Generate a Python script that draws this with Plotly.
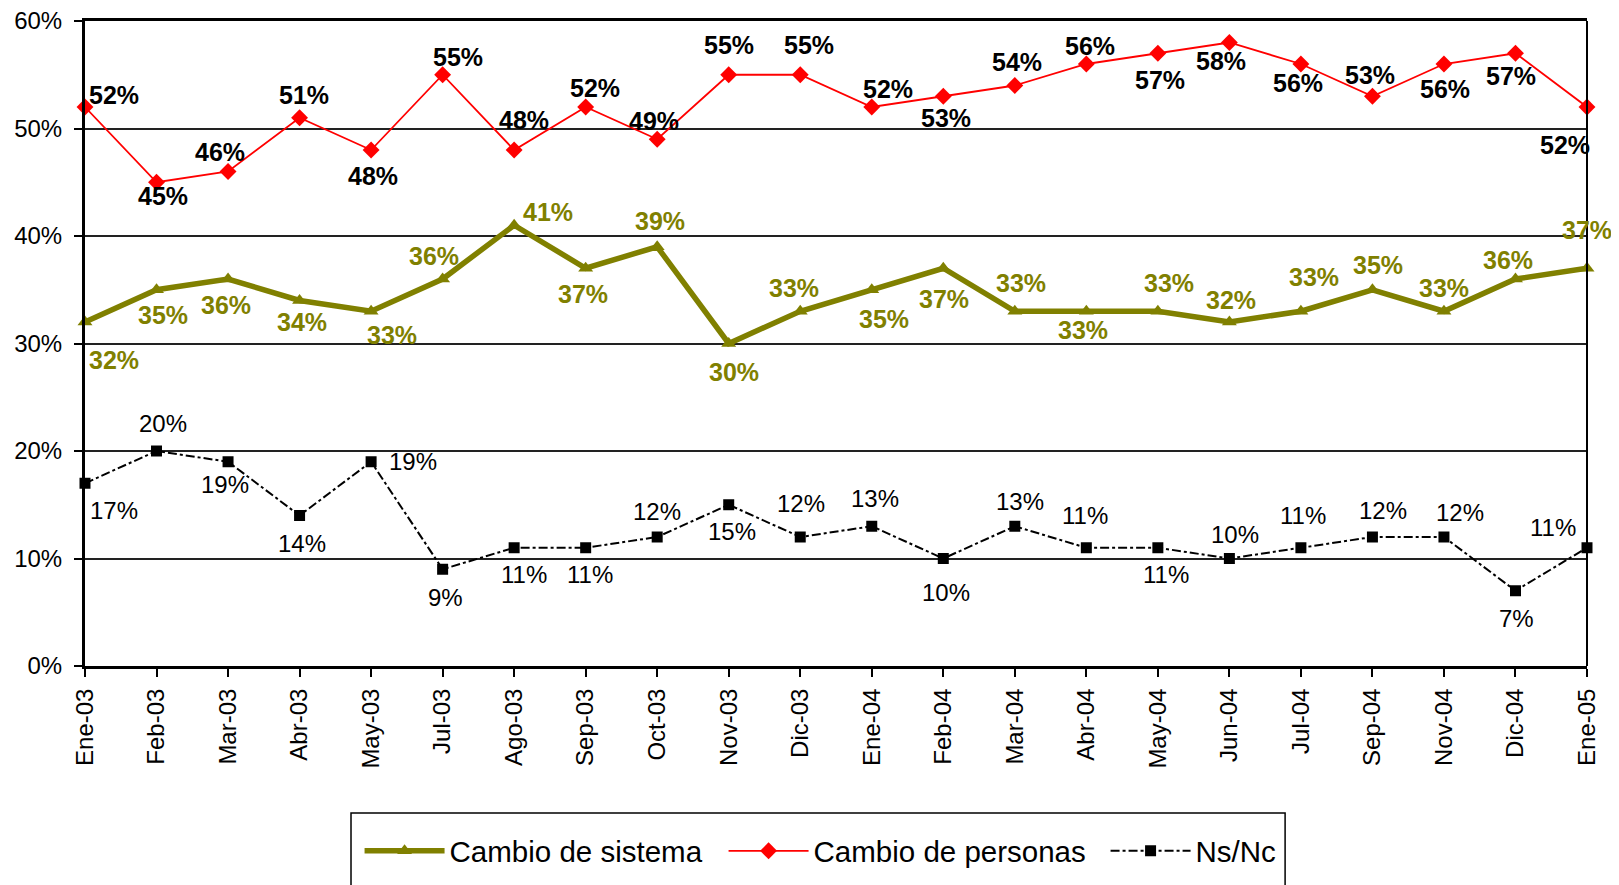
import plotly.graph_objects as go

# ---------------- data ----------------
months = ["Ene-03", "Feb-03", "Mar-03", "Abr-03", "May-03", "Jul-03", "Ago-03", "Sep-03",
          "Oct-03", "Nov-03", "Dic-03", "Ene-04", "Feb-04", "Mar-04", "Abr-04", "May-04",
          "Jun-04", "Jul-04", "Sep-04", "Nov-04", "Dic-04", "Ene-05"]
cambio_sistema = [32, 35, 36, 34, 33, 36, 41, 37, 39, 30, 33, 35, 37, 33, 33, 33, 32, 33, 35, 33, 36, 37]
cambio_personas = [52, 45, 46, 51, 48, 55, 48, 52, 49, 55, 55, 52, 53, 54, 56, 57, 58, 56, 53, 56, 57, 52]
ns_nc = [17, 20, 19, 14, 19, 9, 11, 11, 12, 15, 12, 13, 10, 13, 11, 11, 10, 11, 12, 12, 7, 11]
y_ticks = [0, 10, 20, 30, 40, 50, 60]

# ---------------- label offsets (style: px, dx right, dy down) ----------------
SCALE = 1.0325
off_sistema = [(28, 37), (6, 24), (-2, 25), (2, 21), (20, 23), (-8, -22), (33, -13), (-3, 25),
               (3, -25), (5, 28), (-6, -23), (12, 28), (1, 30), (6, -27), (-3, 18), (11, -27),
               (2, -21), (13, -33), (5, -24), (0, -23), (-7, -18), (0, -37)]
off_personas = [(28, -12), (6, 13), (-8, -19), (4, -22), (2, 25), (15, -17), (10, -29), (9, -18),
                (-3, -18), (0, -29), (8, -29), (16, -17), (3, 21), (2, -23), (4, -17), (2, 26),
                (-8, 18), (-3, 18), (-2, -21), (1, 24), (-4, 22), (-21, 37)]
off_nsnc = [(28, 26), (6, -27), (-3, 22), (2, 27), (41, 0), (3, 27), (10, 26), (4, 26),
            (0, -25), (3, 26), (1, -32), (3, -27), (3, 33), (5, -24), (-1, -31), (8, 26),
            (5, -23), (2, -31), (10, -26), (16, -24), (1, 27), (-33, -20)]

OLIVE = "#808000"
RED = "#FF0000"
FONT = "Liberation Sans, Arial, sans-serif"

fig = go.Figure()
fig.add_trace(go.Scatter(
    x=months, y=cambio_sistema, name="Cambio de sistema", mode="lines+markers",
    line=dict(color=OLIVE, width=5.5), marker=dict(symbol="triangle-up", size=13, color=OLIVE),
    cliponaxis=False, legendwidth=269))
fig.add_trace(go.Scatter(
    x=months, y=cambio_personas, name="Cambio de personas", mode="lines+markers",
    line=dict(color=RED, width=1.8), marker=dict(symbol="diamond", size=13, color=RED),
    cliponaxis=False, legendwidth=287))
fig.add_trace(go.Scatter(
    x=months, y=ns_nc, name="Ns/Nc", mode="lines+markers",
    line=dict(color="black", width=2, dash="dashdot"),
    marker=dict(symbol="square", size=11, color="black"),
    cliponaxis=False))

annotations = []
for vals, offs, color, bold, size in [
    (cambio_sistema, off_sistema, OLIVE, True, 25),
    (cambio_personas, off_personas, "black", True, 25),
    (ns_nc, off_nsnc, "black", False, 24),
]:
    for m, v, (dx, dy) in zip(months, vals, offs):
        txt = f"{v}%"
        if bold:
            txt = f"<b>{txt}</b>"
        annotations.append(dict(
            x=m, y=v, xref="x", yref="y", text=txt, showarrow=False,
            xshift=dx * SCALE, yshift=-dy * SCALE,
            font=dict(family=FONT, size=size, color=color)))

fig.update_layout(
    width=1619, height=885,
    margin=dict(l=77, r=40, t=13, b=227),
    paper_bgcolor="white", plot_bgcolor="white",
    font=dict(family=FONT, size=24, color="black"),
    annotations=annotations,
    showlegend=True,
    legend=dict(orientation="h", x=0.1828, xanchor="left", y=-0.287, yanchor="middle",
                font=dict(family=FONT, size=29.5, color="black"),
                bgcolor="rgba(0,0,0,0)", borderwidth=0, itemwidth=80,
                traceorder="normal"),
    shapes=[
        dict(type="rect", xref="paper", yref="paper", x0=0.1771, x1=0.799, y0=-0.40, y1=-0.2279,
             line=dict(color="black", width=1.5), fillcolor="rgba(0,0,0,0)", layer="below"),
        dict(type="line", xref="paper", yref="paper", x0=1, x1=1, y0=0, y1=1,
             line=dict(color="black", width=2)),
    ],
)

fig.update_xaxes(
    type="category", range=[0, len(months) - 1], automargin=False,
    showline=True, linecolor="black", linewidth=3, mirror=True,
    ticks="outside", ticklen=8, tickwidth=1.5, tickcolor="black",
    tickangle=-90, tickfont=dict(family=FONT, size=24, color="black"),
    ticklabelstandoff=2, ticklabeloverflow="allow", showgrid=False, zeroline=False)
fig.update_yaxes(
    range=[0, 60], tickvals=y_ticks, ticktext=[f"{t}%" for t in y_ticks], automargin=False,
    showline=True, linecolor="black", linewidth=3, mirror=False,
    ticks="outside", ticklen=8, tickwidth=1.5, tickcolor="black",
    tickfont=dict(family=FONT, size=24, color="black"), ticklabelstandoff=7,
    ticklabeloverflow="allow",
    showgrid=True, gridcolor="#222222", gridwidth=1.5, zeroline=False)

fig.write_html("out.html")
